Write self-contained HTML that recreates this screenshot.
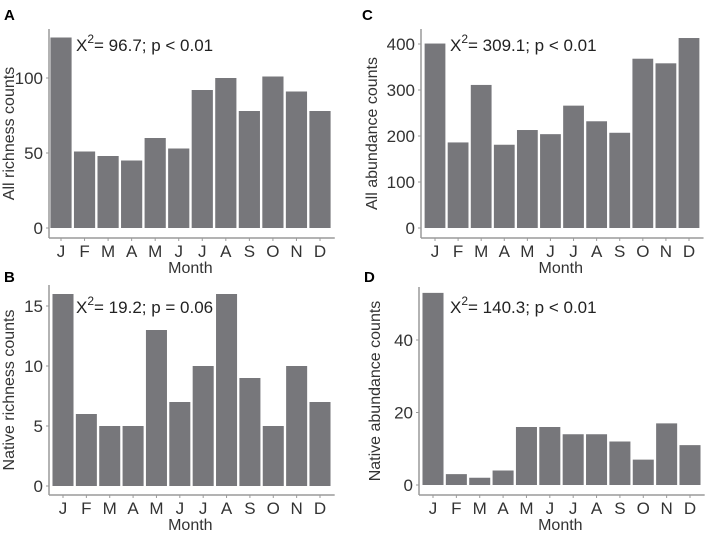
<!DOCTYPE html>
<html><head><meta charset="utf-8"><style>
body{margin:0;background:#fff;}
svg{display:block;font-family:"Liberation Sans",Arial,sans-serif;}
</style></head><body>
<svg id="chart" width="708" height="537" viewBox="0 0 708 537"></svg>
<script>
const months = ["J","F","M","A","M","J","J","A","S","O","N","D"];
const allRichness = [127,51,48,45,60,53,92,100,78,101,91,78];
const allAbundance = [401,186,311,181,213,204,266,232,207,368,358,413];
const nativeRichness = [16,6,5,5,13,7,10,16,9,5,10,7];
const nativeAbundance = [53,3,2,4,16,16,14,14,12,7,17,11];
const ticksA = [0,50,100];
const ticksC = [0,100,200,300,400];
const ticksB = [0,5,10,15];
const ticksD = [0,20,40];

const NS="http://www.w3.org/2000/svg";
const svg=document.getElementById('chart');
function mk(tag,attrs,parent){const e=document.createElementNS(NS,tag);for(const k in attrs)e.setAttribute(k,attrs[k]);(parent||svg).appendChild(e);return e;}

function panel(cfg){
  const g=mk('g',{});
  
  
  const y=v=>cfg.y0-(v/cfg.unit)*cfg.ppu;
  const x=i=>cfg.xJ+i*(cfg.xD-cfg.xJ)/11;
  const pitch=(cfg.xD-cfg.xJ)/11, bw=pitch*0.9;
  // axes
  const ya=mk('line',{x1:cfg.ax,x2:cfg.ax,y1:cfg.top,y2:cfg.xaxisY,stroke:'#9a9a9a','stroke-width':1.5},g);
  
  const xa=mk('line',{x1:cfg.ax,x2:cfg.xD+pitch/2+3,y1:cfg.xaxisY,y2:cfg.xaxisY,stroke:'#9a9a9a','stroke-width':1.5},g);
  
  cfg.ticks.forEach(t=>{
    mk('line',{x1:cfg.ax-3,x2:cfg.ax,y1:y(t),y2:y(t),stroke:'#9a9a9a','stroke-width':1},g);
    const tl=mk('text',{x:cfg.ax-6,y:y(t)+6,'text-anchor':'end','font-size':17,fill:'#333'},g);
    tl.textContent=t;
    
  });
  cfg.data.forEach((v,i)=>{
    const r=mk('rect',{x:x(i)-bw/2,y:y(v),width:bw,height:cfg.y0-y(v),fill:'#77777b'},g);
    
    
    mk('line',{x1:x(i),x2:x(i),y1:cfg.xaxisY,y2:cfg.xaxisY+3,stroke:'#9a9a9a','stroke-width':1},g);
    const ml=mk('text',{x:x(i),y:cfg.xaxisY+19,'text-anchor':'middle','font-size':17,fill:'#333'},g);
    ml.textContent=months[i];
    
  });
  const xt=mk('text',{x:(cfg.ax+cfg.xD+pitch/2)/2,y:cfg.xaxisY+35,'text-anchor':'middle','font-size':16,fill:'#333'},g);
  xt.textContent='Month';
  
  const yt=mk('text',{x:0,y:0,'text-anchor':'middle','font-size':16,fill:'#333',transform:`translate(${cfg.ytx},${(cfg.top+cfg.xaxisY)/2}) rotate(-90)`},g);
  yt.textContent=cfg.ytitle;
  
  const an=mk('text',{x:cfg.annX,y:cfg.annY,'font-size':17,fill:'#222'},g);
  
  const t1=mk('tspan',{},an);t1.textContent='X';
  const t2=mk('tspan',{dy:-8,'font-size':12},an);t2.textContent='2';
  const t3=mk('tspan',{dy:8},an);t3.textContent='= '+cfg.ann;
  const pl=mk('text',{x:cfg.lx,y:cfg.ly,'font-size':15,'font-weight':'bold',fill:'#000'},g);
  pl.textContent=cfg.letter;
  
}
panel({letter:'A',data:allRichness,ticks:ticksA,unit:50,ppu:75,y0:228,ax:49,top:29,xaxisY:238,xJ:61,xD:320,ytitle:'All richness counts',ytx:14,annX:76,annY:51,ann:'96.7; p < 0.01',lx:4,ly:20});
panel({letter:'C',data:allAbundance,ticks:ticksC,unit:100,ppu:46,y0:228,ax:421,top:29,xaxisY:238,xJ:435,xD:689,ytitle:'All abundance counts',ytx:377,annX:450,annY:51,ann:'309.1; p < 0.01',lx:362,ly:20});
panel({letter:'B',data:nativeRichness,ticks:ticksB,unit:5,ppu:60,y0:486,ax:49,top:285,xaxisY:495,xJ:63,xD:320,ytitle:'Native richness counts',ytx:14,annX:76,annY:313,ann:'19.2; p = 0.06',lx:4,ly:282});
panel({letter:'D',data:nativeAbundance,ticks:ticksD,unit:20,ppu:72.5,y0:485,ax:419,top:287,xaxisY:495,xJ:433,xD:690,ytitle:'Native abundance counts',ytx:380,annX:450,annY:313,ann:'140.3; p < 0.01',lx:364,ly:282});
</script>
</body></html>
